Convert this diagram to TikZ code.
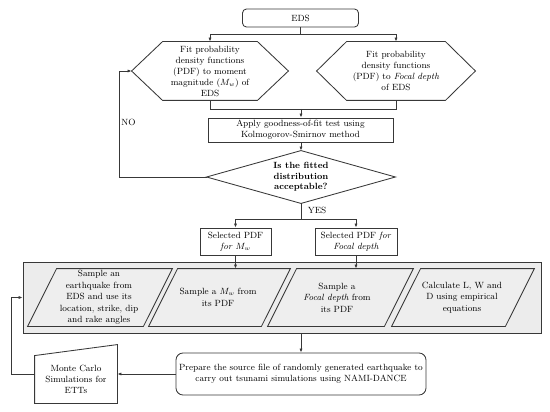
\documentclass[tikz,border=0pt]{standalone}
\usetikzlibrary{arrows.meta,calc}
\begin{document}
\begin{tikzpicture}[x=1pt,y=-1pt,line width=0.85pt,
  every node/.style={inner sep=0pt,align=center,font=\fontsize{9}{11}\selectfont},
  ln/.style={draw=black!78},
  arr/.style={draw=black!78,-{Latex[length=4pt,width=3.2pt]}},
  rbox/.style={draw=black!78,rectangle,minimum width=#1},
  shp/.style={draw=black!78,fill=white},
  pshp/.style={draw=black!78,fill=gray!13},
  ptext/.style={font=\fontsize{9}{11.5}\selectfont}]
\useasboundingbox (0,0) rectangle (550,412);
% top
\node[rbox=116,minimum height=18,rounded corners=4pt] (eds) at (300.5,18) {EDS};
\node[minimum width=156,minimum height=58] (hexL) at (210,71) {};
\node[minimum width=158,minimum height=58] (hexR) at (396,71) {};
\draw[shp] (hexL.west) -- ($(hexL.north west)+(31,0)$) -- ($(hexL.north east)+(-31,0)$) -- (hexL.east) -- ($(hexL.south east)+(-31,0)$) -- ($(hexL.south west)+(31,0)$) -- cycle;
\draw[shp] (hexR.west) -- ($(hexR.north west)+(30,0)$) -- ($(hexR.north east)+(-30,0)$) -- (hexR.east) -- ($(hexR.south east)+(-30,0)$) -- ($(hexR.south west)+(30,0)$) -- cycle;
\node (hexLtext) at (hexL.center) {Fit probability\\density functions\\(PDF) to moment\\magnitude ($M_w$) of\\EDS};
\node (hexRtext) at (hexR.center) {Fit probability\\density functions\\(PDF) to \textit{Focal depth}\\of EDS};
\node[rbox=185,minimum height=24] (apply) at (300.5,130) {Apply goodness-of-fit test using\\Kolmogorov-Smirnov method};
\node[minimum width=188,minimum height=52] (dia) at (301,177) {};
\draw[shp] (dia.west) -- (dia.north) -- (dia.east) -- (dia.south) -- cycle;
\node[font=\bfseries\fontsize{9}{10.5}\selectfont] (diatext) at (dia.center) {Is the fitted\\distribution\\acceptable?};
\node[rbox=71,minimum height=27] (selL) at (235.5,241.5) {Selected PDF\\\textit{for} $M_w$};
\node[rbox=82,minimum height=27] (selR) at (356,241.5) {Selected PDF \textit{for}\\\textit{Focal depth}};
% gray panel
\node[draw=black!78,fill=gray!15,minimum width=518,minimum height=71] (panel) at (282,297.5) {};
\node[minimum width=144,minimum height=57] (p1) at (100,297.5) {};
\node[minimum width=141,minimum height=57] (p2) at (219.5,297.5) {};
\node[minimum width=145,minimum height=57] (p3) at (340.5,297.5) {};
\node[minimum width=142,minimum height=57] (p4) at (463,297.5) {};
\foreach \p in {p1,p2,p3,p4}{
  \draw[pshp] (\p.south west) -- ($(\p.north west)+(29,0)$) -- (\p.north east) -- ($(\p.south east)+(-29,0)$) -- cycle;}
\node[ptext] (t1) at (99,297.5) {Sample an\\earthquake from\\EDS and use its\\location, strike, dip\\and rake angles};
\node[ptext] (t2) at (218,297.5) {Sample a $M_w$ from\\its PDF};
\node[ptext] (t3) at (337,297.5) {Sample a\\\textit{Focal depth} from\\its PDF};
\node[ptext] (t4) at (462,297.5) {Calculate L, W and\\D using empirical\\equations};
% bottom
\node[rbox=250,minimum height=42,rounded corners=7pt] (prep) at (301,374) {Prepare the source file of randomly generated earthquake to\\carry out tsunami simulations using NAMI-DANCE};
\node[minimum width=82,minimum height=58] (mc) at (76,374) {};
\draw[shp] ($(mc.north west)+(0,11)$) -- (mc.north east) -- (mc.south east) -- (mc.south west) -- cycle;
\node (mctext) at (76,379.5) {Monte Carlo\\Simulations for\\ETTs};
% connectors
\coordinate (j1) at (eds.south |- 0,34);
\draw[ln] (eds.south) -- (j1);
\draw[arr] (j1) -| (hexL.north);
\draw[arr] (j1) -| (hexR.north);
\coordinate (j2) at (301,109);
\draw[ln] (hexL.south) |- (j2);
\draw[ln] (hexR.south) |- (j2);
\draw[arr] (j2) -- (apply.north -| j2);
\draw[arr] (apply.south -| dia.north) -- (dia.north);
\coordinate (c1) at (119,177);
\draw[arr] (dia.west) -- (c1) |- (hexL.west);
\node[anchor=west] (no) at (121,122) {NO};
\coordinate (j3) at (301,219);
\draw[ln] (dia.south) -- (j3);
\draw[arr] (j3) -| (selL.north);
\draw[arr] (j3) -| (selR.north);
\node (yes) at (317,210) {YES};
\draw[arr] (selL.south) -- (selL.south |- p2.north);
\draw[arr] (selR.south) -- (selR.south |- p3.north);
\draw[arr] (prep.north |- panel.south) -- (prep.north);
\draw[arr] (prep.west) -- (prep.west -| mc.east);
\coordinate (c2) at (11,374);
\draw[arr] (mc.west) -- (c2) |- (panel.west);
\end{tikzpicture}
\end{document}
